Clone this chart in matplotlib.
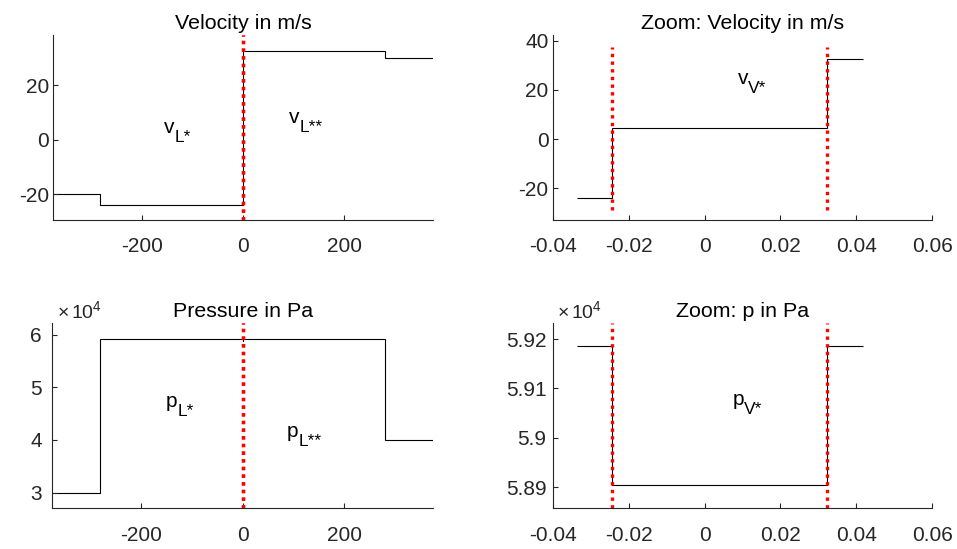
import matplotlib
matplotlib.use("Agg")
import matplotlib.pyplot as plt
from matplotlib.ticker import FuncFormatter

plt.rcParams['font.family'] = ['Liberation Sans', 'DejaVu Sans']
plt.rcParams['mathtext.fontset'] = 'custom'
plt.rcParams['mathtext.rm'] = 'Liberation Sans'
plt.rcParams['mathtext.it'] = 'Liberation Sans'
plt.rcParams['mathtext.default'] = 'regular'
plt.rcParams['axes.unicode_minus'] = False

# Riemann problem solution: piecewise constant states
x_edges = [-375, -282, -0.0243, 0.0323, 281, 375]
vel = [-20, -23.9, 4.6, 32.5, 30]
pres = [3.0e4, 5.9186e4, 5.8905e4, 5.9186e4, 4.0e4]

# zoom around the contact/vapour region
x_zoom = [-0.0335, -0.0243, 0.0323, 0.0417]
vel_zoom = [-23.9, 4.6, 32.5]
pres_zoom = [5.9186e4, 5.8905e4, 5.9186e4]

# interface positions (red dotted)
iface = [-0.0243, 0.0323]

AX_COL = '#262626'
FS = 15
DOTS = (0, (1, 1.3))


def style(ax, pad):
    for s in ['top', 'right']:
        ax.spines[s].set_visible(False)
    for s in ['left', 'bottom']:
        ax.spines[s].set_color(AX_COL)
        ax.spines[s].set_linewidth(0.8)
    ax.tick_params(direction='in', length=3.5, width=0.8, colors=AX_COL,
                   labelsize=FS, labelcolor=AX_COL)
    ax.tick_params(axis='y', pad=pad)
    ax.tick_params(axis='x', pad=12.5)


def red_lines(ax, ymin=None, ymax=None):
    for xi in iface:
        if ymin is None:
            ax.axvline(xi, color='red', lw=2.4, linestyle=DOTS,
                       dash_capstyle='butt')
        else:
            ax.vlines(xi, ymin, ymax, color='red', lw=2.4, linestyle=DOTS,
                      capstyle='butt')


def state_label(ax, x, y, main, sub):
    # MATLAB-like tex label: big letter, slightly smaller subscript
    ax.text(x, y, main, fontsize=15, ha='left', va='baseline')
    adv = 7.6 if main == 'v' else 8.4
    ax.annotate(sub, (x, y), xytext=(adv, -6.8), textcoords='offset points',
                fontsize=12.5, ha='left', va='baseline')


def times_ten(ax):
    ax.text(0.012, 1.027, r'$\times\,10^{4}$', transform=ax.transAxes,
            fontsize=14, color=AX_COL, ha='left', va='baseline')


g = lambda v, p: f"{v:g}"
g4 = lambda v, p: f"{v / 1e4:g}"

fig = plt.figure(figsize=(9.57, 5.49), dpi=100)
W, H = 957, 549


def add_ax(l, t, r, b):
    return fig.add_axes([l / W, 1 - b / H, (r - l) / W, (b - t) / H])


# velocity
ax1 = add_ax(53, 35, 433, 220)
ax1.stairs(vel, x_edges, baseline=None, color='k', lw=0.8)
red_lines(ax1)
ax1.set_xlim(x_edges[0], x_edges[-1])
ax1.set_ylim(-29.4, 38.3)
ax1.set_xticks([-200, 0, 200])
ax1.set_yticks([-20, 0, 20])
ax1.xaxis.set_major_formatter(FuncFormatter(g))
ax1.yaxis.set_major_formatter(FuncFormatter(g))
style(ax1, 3)
ax1.set_title('Velocity in m/s', fontsize=15.4, pad=4)
state_label(ax1, -156, 2.45, 'v', 'L*')
state_label(ax1, 90.7, 6.1, 'v', 'L**')

# velocity zoom
ax2 = add_ax(552.7, 35, 932.3, 220)
ax2.stairs(vel_zoom, x_zoom, baseline=None, color='k', lw=0.8)
red_lines(ax2, -28.8, 37.5)
ax2.set_xlim(-0.04, 0.06)
ax2.set_ylim(-32.9, 42.3)
ax2.set_xticks([-0.04, -0.02, 0, 0.02, 0.04, 0.06])
ax2.set_yticks([-20, 0, 20, 40])
ax2.xaxis.set_major_formatter(FuncFormatter(g))
ax2.yaxis.set_major_formatter(FuncFormatter(g))
style(ax2, 3)
ax2.set_title('Zoom: Velocity in m/s', fontsize=15.4, pad=4)
state_label(ax2, 0.0087, 22.4, 'v', 'V*')

# pressure
ax3 = add_ax(52.3, 323.3, 433, 508.3)
ax3.stairs(pres, x_edges, baseline=None, color='k', lw=0.8)
red_lines(ax3)
ax3.set_xlim(x_edges[0], x_edges[-1])
ax3.set_ylim(2.70e4, 6.22e4)
ax3.set_xticks([-200, 0, 200])
ax3.set_yticks([3e4, 4e4, 5e4, 6e4])
ax3.xaxis.set_major_formatter(FuncFormatter(g))
ax3.yaxis.set_major_formatter(FuncFormatter(g4))
style(ax3, 7.5)
ax3.set_title('Pressure in Pa', fontsize=15.4, pad=4.5)
times_ten(ax3)
state_label(ax3, -152, 4.63e4, 'p', 'L*')
state_label(ax3, 87.5, 4.063e4, 'p', 'L**')

# pressure zoom
ax4 = add_ax(552.7, 323.3, 932.3, 508.3)
ax4.stairs(pres_zoom, x_zoom, baseline=None, color='k', lw=0.8)
red_lines(ax4)
ax4.set_xlim(-0.04, 0.06)
ax4.set_ylim(5.8857e4, 5.9232e4)
ax4.set_xticks([-0.04, -0.02, 0, 0.02, 0.04, 0.06])
ax4.set_yticks([5.89e4, 5.90e4, 5.91e4, 5.92e4])
ax4.xaxis.set_major_formatter(FuncFormatter(g))
ax4.yaxis.set_major_formatter(FuncFormatter(g4))
style(ax4, 4.5)
ax4.set_title('Zoom: p in Pa', fontsize=15.4, pad=4.5)
times_ten(ax4)
state_label(ax4, 0.0074, 5.9067e4, 'p', 'V*')

fig.savefig('out.png', dpi=100, facecolor='white')
